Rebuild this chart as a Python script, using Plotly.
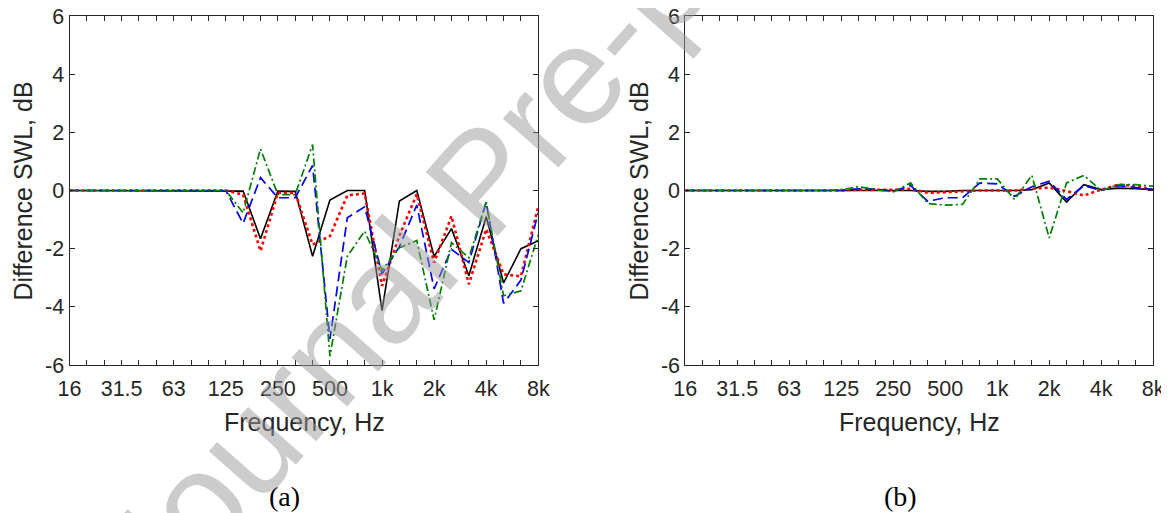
import plotly.graph_objects as go

# One-third octave bands 16 Hz .. 8 kHz
bands = ["16", "20", "25", "31.5", "40", "50", "63", "80", "100", "125", "160", "200",
         "250", "315", "400", "500", "630", "800", "1k", "1.25k", "1.6k", "2k", "2.5k",
         "3.15k", "4k", "5k", "6.3k", "8k"]
octave_labels = {"16": "16", "31.5": "31.5", "63": "63", "125": "125", "250": "250",
                 "500": "500", "1k": "1k", "2k": "2k", "4k": "4k", "8k": "8k"}
yticks = [-6, -4, -2, 0, 2, 4, 6]

# Panel (a)
a_black = [0, 0, 0, 0, 0, 0, 0, 0, 0, 0, -0.02, -1.66, -0.02, -0.03, -2.26, -0.33, 0, 0,
           -4.13, -0.36, 0, -2.27, -1.31, -2.93, -0.9, -3.18, -2.0, -1.73]
a_red = [0, 0, 0, 0, 0, 0, 0, 0, 0, 0, -0.14, -2.08, -0.08, -0.08, -1.86, -1.57, -0.17, -0.1,
         -3.28, -1.55, -0.13, -2.48, -0.88, -3.22, -1.33, -2.88, -2.95, -0.55]
a_blue = [0, 0, 0, 0, 0, 0, 0, 0, 0, 0, -1.13, 0.44, -0.25, -0.25, 0.86, -5.1, -0.94, -0.56,
          -2.87, -1.93, -0.5, -3.38, -2.02, -2.48, -0.39, -3.88, -3.08, -0.76]
a_green = [0, 0, 0, 0, 0, 0, 0, 0, 0, 0, -0.77, 1.43, -0.14, -0.14, 1.58, -5.7, -2.26, -1.4,
           -2.74, -1.97, -1.72, -4.45, -1.79, -2.31, -0.4, -3.62, -3.45, -1.53]

# Panel (b)
b_black = [0, 0, 0, 0, 0, 0, 0, 0, 0, 0, 0, 0, 0, 0, -0.03, -0.03, 0, 0,
           0, 0, 0.03, 0.26, -0.4, 0.2, 0.03, 0.08, 0.06, 0.03]
b_red = [0, 0, 0, 0, 0, 0, 0, 0, 0, 0, 0.03, 0.02, 0.02, 0.06, -0.08, -0.06, -0.03, 0,
         0, 0, 0.06, 0.1, -0.02, -0.17, 0.03, 0.2, 0.15, 0.03]
b_blue = [0, 0, 0, 0, 0, 0, 0, 0, 0, 0, 0.06, 0.05, -0.03, 0.17, -0.37, -0.25, -0.25, 0.26,
          0.23, -0.2, 0.13, 0.32, -0.31, 0.17, 0, 0.17, 0.1, 0.03]
b_green = [0, 0, 0, 0, 0, 0, 0, 0, 0, 0.03, 0.13, 0.03, -0.05, 0.26, -0.45, -0.5, -0.48, 0.4,
           0.4, -0.31, 0.52, -1.63, 0.26, 0.52, 0, 0.2, 0.2, 0.15]

FONT = "Liberation Sans, Arial, sans-serif"
AXC = "#262626"

styles = [
    dict(color="black", width=1.6, dash="solid"),
    dict(color="#ff0000", width=2.6, dash="dot"),
    dict(color="#0000ff", width=1.7, dash="10px,5px"),
    dict(color="#008000", width=1.7, dash="8px,3px,2px,3px"),
]

fig = go.Figure()
for xa, ya, series in [("x", "y", [a_black, a_red, a_blue, a_green]),
                       ("x2", "y2", [b_black, b_red, b_blue, b_green])]:
    for s, st in zip(series, styles):
        fig.add_trace(go.Scatter(x=bands, y=s, mode="lines", line=st, xaxis=xa, yaxis=ya,
                                 showlegend=False, hoverinfo="skip"))

ticktext = [octave_labels.get(b, "") for b in bands]
xcommon = dict(type="category", range=[0, len(bands) - 1], tickmode="array",
               tickvals=bands, ticktext=ticktext, ticks="inside", ticklen=5,
               tickcolor=AXC, tickwidth=1, showline=True, linecolor=AXC, linewidth=1,
               mirror="ticks", showgrid=False, zeroline=False, automargin=False,
               ticklabeloverflow="allow",
               tickfont=dict(family=FONT, size=21.5, color=AXC), ticklabelstandoff=4)
ycommon = dict(range=[-6, 6], tickmode="array", tickvals=yticks,
               ticktext=[str(v) for v in yticks], ticks="inside", ticklen=5,
               tickcolor=AXC, tickwidth=1, showline=True, linecolor=AXC, linewidth=1,
               mirror="ticks", showgrid=False, zeroline=False, automargin=False,
               ticklabeloverflow="allow",
               tickfont=dict(family=FONT, size=21.5, color=AXC))

# The page body has an 8 px margin; lay the figure out in window pixels minus that offset.
OFF = 8
W, H = 1169 - OFF, 513 - OFF


def px(x):
    return (x - OFF) / W


def py(y):
    return 1 - (y - OFF) / H


ydom = [py(365), py(16)]
fig.update_layout(
    width=W, height=H, margin=dict(l=0, r=0, t=0, b=0, autoexpand=False),
    paper_bgcolor="white", plot_bgcolor="white",
    xaxis=dict(domain=[px(69.5), px(538.3)], anchor="y", **xcommon),
    yaxis=dict(domain=ydom, anchor="x", **ycommon),
    xaxis2=dict(domain=[px(685.3), px(1153.2)], anchor="y2", **xcommon),
    yaxis2=dict(domain=ydom, anchor="x2", **ycommon),
)

ann = []
for cx, ytx, lab, labx in [(304, 22, "(a)", 284), (919.3, 638, "(b)", 900)]:
    ann.append(dict(text="Frequency, Hz", x=px(cx), y=py(422), xref="paper", yref="paper",
                    xanchor="center", yanchor="middle", showarrow=False,
                    font=dict(family=FONT, size=25, color=AXC)))
    ann.append(dict(text="Difference SWL, dB", x=px(ytx), y=py(191.5), xref="paper",
                    yref="paper", xanchor="center", yanchor="middle", textangle=-90,
                    showarrow=False, font=dict(family=FONT, size=25, color=AXC)))
    ann.append(dict(text=lab, x=px(labx), y=py(496), xref="paper", yref="paper",
                    xanchor="center", yanchor="middle", showarrow=False,
                    font=dict(family="Liberation Serif, Times New Roman, serif", size=28,
                              color="black")))
# Watermark
ann.append(dict(text="Journal Pre-proof", x=px(482), y=py(180), xref="paper", yref="paper",
                xanchor="center", yanchor="middle", textangle=-48.5, showarrow=False,
                font=dict(family=FONT, size=140, color="rgba(153,153,153,0.5)")))
fig.update_layout(annotations=ann)

fig.write_html("out.html")
